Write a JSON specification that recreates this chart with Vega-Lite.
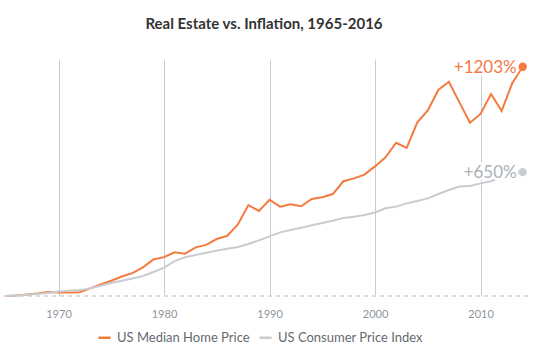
{
  "$schema": "https://vega.github.io/schema/vega-lite/v6.json",
  "width": 528,
  "height": 237,
  "autosize": "none",
  "padding": {"left": 0, "top": 59, "right": 17, "bottom": 62},
  "background": "white",
  "title": {
    "text": "Real Estate vs. Inflation, 1965-2016",
    "font": "Lato",
    "fontSize": 15,
    "fontWeight": "bold",
    "color": "#333333",
    "anchor": "middle",
    "baseline": "alphabetic",
    "offset": 15
  },
  "config": {
    "view": {"stroke": null},
    "font": "Lato"
  },
  "data": {
    "values": [
      {"year": 1965, "series": "US Median Home Price", "value": 0},
      {"year": 1966, "series": "US Median Home Price", "value": 0.03},
      {"year": 1967, "series": "US Median Home Price", "value": 0.08},
      {"year": 1968, "series": "US Median Home Price", "value": 0.13},
      {"year": 1969, "series": "US Median Home Price", "value": 0.21},
      {"year": 1970, "series": "US Median Home Price", "value": 0.19},
      {"year": 1971, "series": "US Median Home Price", "value": 0.18},
      {"year": 1972, "series": "US Median Home Price", "value": 0.20},
      {"year": 1973, "series": "US Median Home Price", "value": 0.40},
      {"year": 1974, "series": "US Median Home Price", "value": 0.60},
      {"year": 1975, "series": "US Median Home Price", "value": 0.80},
      {"year": 1976, "series": "US Median Home Price", "value": 1.02},
      {"year": 1977, "series": "US Median Home Price", "value": 1.20},
      {"year": 1978, "series": "US Median Home Price", "value": 1.50},
      {"year": 1979, "series": "US Median Home Price", "value": 1.92},
      {"year": 1980, "series": "US Median Home Price", "value": 2.04},
      {"year": 1981, "series": "US Median Home Price", "value": 2.29},
      {"year": 1982, "series": "US Median Home Price", "value": 2.22},
      {"year": 1983, "series": "US Median Home Price", "value": 2.55},
      {"year": 1984, "series": "US Median Home Price", "value": 2.68},
      {"year": 1985, "series": "US Median Home Price", "value": 2.99},
      {"year": 1986, "series": "US Median Home Price", "value": 3.16},
      {"year": 1987, "series": "US Median Home Price", "value": 3.75},
      {"year": 1988, "series": "US Median Home Price", "value": 4.77},
      {"year": 1989, "series": "US Median Home Price", "value": 4.46},
      {"year": 1990, "series": "US Median Home Price", "value": 5.05},
      {"year": 1991, "series": "US Median Home Price", "value": 4.69},
      {"year": 1992, "series": "US Median Home Price", "value": 4.81},
      {"year": 1993, "series": "US Median Home Price", "value": 4.71},
      {"year": 1994, "series": "US Median Home Price", "value": 5.09},
      {"year": 1995, "series": "US Median Home Price", "value": 5.18},
      {"year": 1996, "series": "US Median Home Price", "value": 5.35},
      {"year": 1997, "series": "US Median Home Price", "value": 6.02},
      {"year": 1998, "series": "US Median Home Price", "value": 6.17},
      {"year": 1999, "series": "US Median Home Price", "value": 6.37},
      {"year": 2000, "series": "US Median Home Price", "value": 6.80},
      {"year": 2001, "series": "US Median Home Price", "value": 7.28},
      {"year": 2002, "series": "US Median Home Price", "value": 8.04},
      {"year": 2003, "series": "US Median Home Price", "value": 7.77},
      {"year": 2004, "series": "US Median Home Price", "value": 9.10},
      {"year": 2005, "series": "US Median Home Price", "value": 9.74},
      {"year": 2006, "series": "US Median Home Price", "value": 10.81},
      {"year": 2007, "series": "US Median Home Price", "value": 11.24},
      {"year": 2008, "series": "US Median Home Price", "value": 10.16},
      {"year": 2009, "series": "US Median Home Price", "value": 9.09},
      {"year": 2010, "series": "US Median Home Price", "value": 9.55},
      {"year": 2011, "series": "US Median Home Price", "value": 10.60},
      {"year": 2012, "series": "US Median Home Price", "value": 9.71},
      {"year": 2013, "series": "US Median Home Price", "value": 11.16},
      {"year": 2014, "series": "US Median Home Price", "value": 12.03},
      {"year": 1965, "series": "US Consumer Price Index", "value": 0},
      {"year": 1966, "series": "US Consumer Price Index", "value": 0.03},
      {"year": 1967, "series": "US Consumer Price Index", "value": 0.06},
      {"year": 1968, "series": "US Consumer Price Index", "value": 0.10},
      {"year": 1969, "series": "US Consumer Price Index", "value": 0.16},
      {"year": 1970, "series": "US Consumer Price Index", "value": 0.23},
      {"year": 1971, "series": "US Consumer Price Index", "value": 0.28},
      {"year": 1972, "series": "US Consumer Price Index", "value": 0.32},
      {"year": 1973, "series": "US Consumer Price Index", "value": 0.40},
      {"year": 1974, "series": "US Consumer Price Index", "value": 0.54},
      {"year": 1975, "series": "US Consumer Price Index", "value": 0.68},
      {"year": 1976, "series": "US Consumer Price Index", "value": 0.80},
      {"year": 1977, "series": "US Consumer Price Index", "value": 0.92},
      {"year": 1978, "series": "US Consumer Price Index", "value": 1.05},
      {"year": 1979, "series": "US Consumer Price Index", "value": 1.26},
      {"year": 1980, "series": "US Consumer Price Index", "value": 1.49},
      {"year": 1981, "series": "US Consumer Price Index", "value": 1.83},
      {"year": 1982, "series": "US Consumer Price Index", "value": 2.03},
      {"year": 1983, "series": "US Consumer Price Index", "value": 2.15},
      {"year": 1984, "series": "US Consumer Price Index", "value": 2.27},
      {"year": 1985, "series": "US Consumer Price Index", "value": 2.38},
      {"year": 1986, "series": "US Consumer Price Index", "value": 2.48},
      {"year": 1987, "series": "US Consumer Price Index", "value": 2.57},
      {"year": 1988, "series": "US Consumer Price Index", "value": 2.73},
      {"year": 1989, "series": "US Consumer Price Index", "value": 2.92},
      {"year": 1990, "series": "US Consumer Price Index", "value": 3.13},
      {"year": 1991, "series": "US Consumer Price Index", "value": 3.34},
      {"year": 1992, "series": "US Consumer Price Index", "value": 3.46},
      {"year": 1993, "series": "US Consumer Price Index", "value": 3.58},
      {"year": 1994, "series": "US Consumer Price Index", "value": 3.71},
      {"year": 1995, "series": "US Consumer Price Index", "value": 3.83},
      {"year": 1996, "series": "US Consumer Price Index", "value": 3.95},
      {"year": 1997, "series": "US Consumer Price Index", "value": 4.09},
      {"year": 1998, "series": "US Consumer Price Index", "value": 4.16},
      {"year": 1999, "series": "US Consumer Price Index", "value": 4.25},
      {"year": 2000, "series": "US Consumer Price Index", "value": 4.38},
      {"year": 2001, "series": "US Consumer Price Index", "value": 4.60},
      {"year": 2002, "series": "US Consumer Price Index", "value": 4.69},
      {"year": 2003, "series": "US Consumer Price Index", "value": 4.86},
      {"year": 2004, "series": "US Consumer Price Index", "value": 4.98},
      {"year": 2005, "series": "US Consumer Price Index", "value": 5.12},
      {"year": 2006, "series": "US Consumer Price Index", "value": 5.35},
      {"year": 2007, "series": "US Consumer Price Index", "value": 5.56},
      {"year": 2008, "series": "US Consumer Price Index", "value": 5.74},
      {"year": 2009, "series": "US Consumer Price Index", "value": 5.77},
      {"year": 2010, "series": "US Consumer Price Index", "value": 5.91},
      {"year": 2011, "series": "US Consumer Price Index", "value": 6.02},
      {"year": 2012, "series": "US Consumer Price Index", "value": 6.27},
      {"year": 2013, "series": "US Consumer Price Index", "value": 6.40},
      {"year": 2014, "series": "US Consumer Price Index", "value": 6.50}
    ]
  },
  "encoding": {
    "x": {
      "field": "year",
      "type": "quantitative",
      "scale": {"domain": [1964.455, 2014.5], "nice": false, "zero": false},
      "axis": {
        "title": null,
        "values": [1970, 1980, 1990, 2000, 2010],
        "format": "d",
        "grid": true,
        "gridColor": "#c9cdd1",
        "gridWidth": 1,
        "domain": false,
        "ticks": false,
        "labelPadding": 12,
        "labelFont": "Lato",
        "labelFontSize": 11,
        "labelColor": "#8d959d"
      }
    },
    "y": {
      "field": "value",
      "type": "quantitative",
      "scale": {"domain": [0, 12.434], "nice": false},
      "axis": null
    }
  },
  "layer": [
    {
      "mark": {"type": "rule", "stroke": "#dddddd", "strokeDash": [4, 4], "strokeWidth": 1},
      "encoding": {"y": {"datum": 0}, "x": null}
    },
    {
      "mark": {"type": "line", "strokeWidth": 2, "interpolate": "linear"},
      "encoding": {
        "color": {
          "field": "series",
          "type": "nominal",
          "scale": {
            "domain": ["US Median Home Price", "US Consumer Price Index"],
            "range": ["#f47a3f", "#c9ccd0"]
          },
          "legend": {
            "title": null,
            "orient": "none",
            "legendX": 97,
            "legendY": 271,
            "direction": "horizontal",
            "symbolType": "stroke",
            "symbolStrokeWidth": 2.5,
            "symbolSize": 150,
            "labelFont": "Lato",
            "labelFontSize": 13,
            "labelColor": "#666a70",
            "columnPadding": 4,
            "labelOffset": 5
          }
        }
      }
    },
    {
      "transform": [{"filter": "datum.year == 2014"}],
      "mark": {"type": "text", "align": "right", "baseline": "middle", "dx": -6, "dy": 1, "fontSize": 17, "font": "Lato", "stroke": "white", "strokeWidth": 5, "strokeJoin": "round", "fill": "white"},
      "encoding": {
        "text": {"field": "value", "type": "quantitative", "format": "+.0%"}
      }
    },
    {
      "transform": [{"filter": "datum.year == 2014"}],
      "mark": {"type": "text", "align": "right", "baseline": "middle", "dx": -6, "dy": 1, "fontSize": 17, "font": "Lato"},
      "encoding": {
        "text": {"field": "value", "type": "quantitative", "format": "+.0%"},
        "color": {
          "condition": {"test": "datum.series == 'US Consumer Price Index'", "value": "#a9b0b7"},
          "value": "#f47a3f"
        }
      }
    },
    {
      "transform": [{"filter": "datum.year == 2014"}],
      "mark": {"type": "point", "filled": true, "size": 70, "opacity": 1},
      "encoding": {
        "color": {
          "condition": {"test": "datum.series == 'US Consumer Price Index'", "value": "#c9ccd0"},
          "value": "#f47a3f"
        }
      }
    }
  ]
}
